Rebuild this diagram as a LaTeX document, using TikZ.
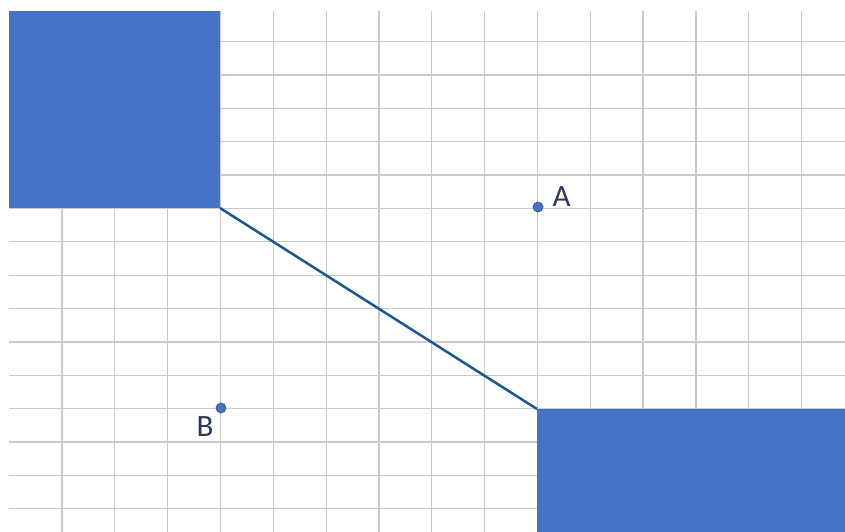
\documentclass[tikz,border=0pt]{standalone}
\usepackage{fontspec}
\setmainfont{Carlito}
\definecolor{boxblue}{HTML}{4472C4}
\definecolor{dotedge}{HTML}{2F528F}
\definecolor{linkblue}{HTML}{1B5794}
\definecolor{gridgray}{HTML}{CACACA}
\definecolor{labelcol}{RGB}{44,56,84}
\tikzset{
  gridline/.style={draw=gridgray, line width=1.3pt},
  block/.style={fill=boxblue, draw=none},
  link/.style={draw=linkblue, line width=2.5pt},
  pt/.style={circle, fill=boxblue, draw=dotedge, line width=0.7pt, inner sep=0pt, minimum size=10pt},
  lbl/.style={text=labelcol, font=\fontsize{31}{31}\selectfont, inner sep=0pt}
}
\begin{document}
\begin{tikzpicture}[x=1pt,y=-1pt]
\useasboundingbox (0,0) rectangle (845,532);
\fill[white] (0,0) rectangle (845,532);
% grid
\foreach \k in {0,...,14} {
  \draw[gridline] ({62+52.83*\k},11) -- ({62+52.83*\k},532);
  \draw[gridline] (9,{41.7+33.35*\k}) -- (845,{41.7+33.35*\k});
}
% blocks
\coordinate (r1tl) at (9,11);
\coordinate (r1br) at (220,208);
\coordinate (r2tl) at (537,409);
\coordinate (r2br) at (845,532);
\fill[block] (r1tl) rectangle (r1br);
\fill[block] (r2tl) rectangle (r2br);
% connector
\draw[link] (r1br) -- (r2tl);
% points
\node[pt] (A) at (538,207) {};
\node[pt] (B) at (221,408) {};
\node[lbl] (Alab) at (561.5,197) {A};
\node[lbl] (Blab) at (205,427) {B};
\end{tikzpicture}
\end{document}
